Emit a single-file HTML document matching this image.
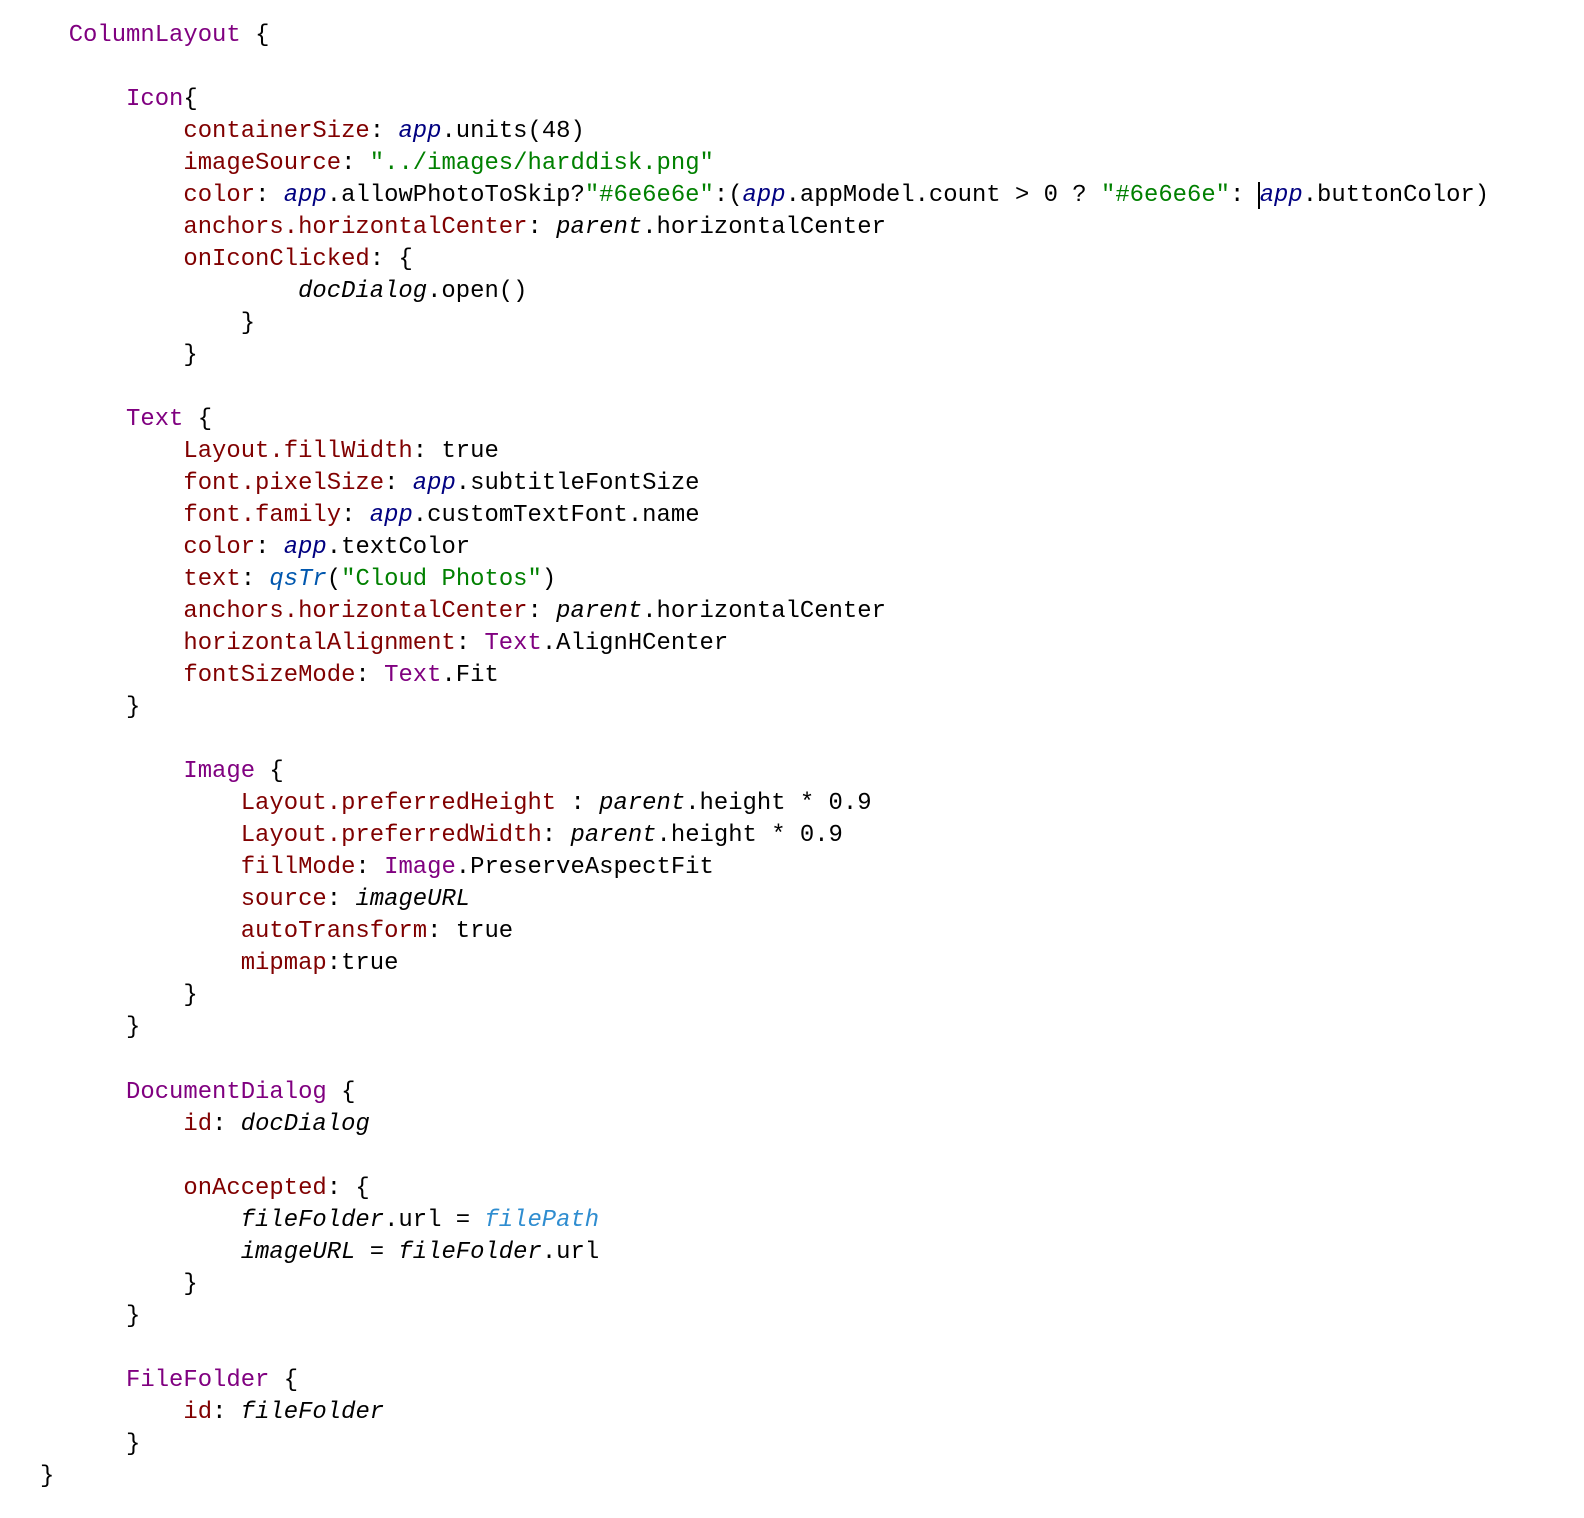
<!DOCTYPE html>
<html><head><meta charset="utf-8"><style>
html,body{margin:0;padding:0;background:#fff;width:1584px;height:1518px;overflow:hidden}
pre{margin:0;position:absolute;left:40px;top:20px;font-family:"Liberation Mono",monospace;font-size:23.9px;line-height:32.02px;color:#000}
.t{color:#800080}.p{color:#800000}.a{color:#000080;font-style:italic}.s{color:#008000}.i{font-style:italic}.q{color:#0057ae;font-style:italic}.f{color:#2f8dd0;font-style:italic}
.cur{border-left:2px solid #000;margin-left:-1px}
</style></head><body><pre>  <span class="t">ColumnLayout</span> {

      <span class="t">Icon</span>{
          <span class="p">containerSize</span>: <span class="a">app</span>.units(48)
          <span class="p">imageSource</span>: <span class="s">"../images/harddisk.png"</span>
          <span class="p">color</span>: <span class="a">app</span>.allowPhotoToSkip?<span class="s">"#6e6e6e"</span>:(<span class="a">app</span>.appModel.count &gt; 0 ? <span class="s">"#6e6e6e"</span>: <span class="a cur">app</span>.buttonColor)
          <span class="p">anchors.horizontalCenter</span>: <span class="i">parent</span>.horizontalCenter
          <span class="p">onIconClicked</span>: {
                  <span class="i">docDialog</span>.open()
              }
          }

      <span class="t">Text</span> {
          <span class="p">Layout.fillWidth</span>: true
          <span class="p">font.pixelSize</span>: <span class="a">app</span>.subtitleFontSize
          <span class="p">font.family</span>: <span class="a">app</span>.customTextFont.name
          <span class="p">color</span>: <span class="a">app</span>.textColor
          <span class="p">text</span>: <span class="q">qsTr</span>(<span class="s">"Cloud Photos"</span>)
          <span class="p">anchors.horizontalCenter</span>: <span class="i">parent</span>.horizontalCenter
          <span class="p">horizontalAlignment</span>: <span class="t">Text</span>.AlignHCenter
          <span class="p">fontSizeMode</span>: <span class="t">Text</span>.Fit
      }

          <span class="t">Image</span> {
              <span class="p">Layout.preferredHeight</span> : <span class="i">parent</span>.height * 0.9
              <span class="p">Layout.preferredWidth</span>: <span class="i">parent</span>.height * 0.9
              <span class="p">fillMode</span>: <span class="t">Image</span>.PreserveAspectFit
              <span class="p">source</span>: <span class="i">imageURL</span>
              <span class="p">autoTransform</span>: true
              <span class="p">mipmap</span>:true
          }
      }

      <span class="t">DocumentDialog</span> {
          <span class="p">id</span>: <span class="i">docDialog</span>

          <span class="p">onAccepted</span>: {
              <span class="i">fileFolder</span>.url = <span class="f">filePath</span>
              <span class="i">imageURL</span> = <span class="i">fileFolder</span>.url
          }
      }

      <span class="t">FileFolder</span> {
          <span class="p">id</span>: <span class="i">fileFolder</span>
      }
}</pre></body></html>
